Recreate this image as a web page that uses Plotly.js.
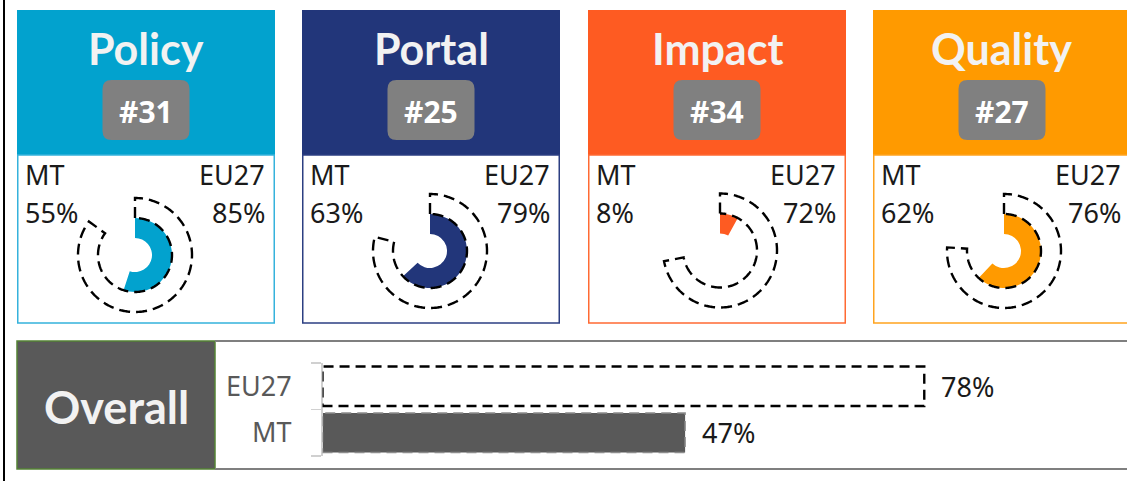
<!DOCTYPE html>
<html><head><meta charset="utf-8">
<script src="https://cdn.plot.ly/plotly-3.0.1.min.js"></script>
<style>html,body{margin:0;padding:0;background:#fff;}#chart{width:1127px;height:481px;}</style>
</head><body><div id="chart"></div>
<script>
// ---- data ----
const pillars = ['Policy', 'Portal', 'Impact', 'Quality'];
const ranks = ['#31', '#25', '#34', '#27'];
const mtScores = [55, 63, 8, 62];
const eu27Scores = [85, 79, 72, 76];
const overallCategories = ['MT', 'EU27'];
const overallValues = [47, 78];
const countryLabel = 'MT';
const benchmarkLabel = 'EU27';
const overallTitle = 'Overall';

// ---- styling ----
const headerColors = ['#02A2CE', '#22367A', '#FE5B22', '#FF9A00'];
const borderColors = ['#35B2DC', '#2C3F82', '#FF6A33', '#FFA41F'];
const W = 1127, H = 481;
const X = v => v / W, Y = v => 1 - v / H;
const panelLeft = [17, 302, 588, 873];
const panelW = 258, headerTop = 10, headerBottom = 155, bodyBottom = 323;
const donutCx = [135, 430, 720, 1004];
const donutCy = [255, 251, 250.5, 251];
const R = 60, rHole = 17, rMid = 37, rOut = 57;
const RING_DASH = '11px,6px';
const BAR_DASH = '10px,6px';

function rr(x0, y0, x1, y1, r) {
  return `M${X(x0 + r)},${Y(y0)} L${X(x1 - r)},${Y(y0)} Q${X(x1)},${Y(y0)} ${X(x1)},${Y(y0 + r)} ` +
    `L${X(x1)},${Y(y1 - r)} Q${X(x1)},${Y(y1)} ${X(x1 - r)},${Y(y1)} L${X(x0 + r)},${Y(y1)} ` +
    `Q${X(x0)},${Y(y1)} ${X(x0)},${Y(y1 - r)} L${X(x0)},${Y(y0 + r)} Q${X(x0)},${Y(y0)} ${X(x0 + r)},${Y(y0)} Z`;
}

function ringOutline(pct) {
  const end = pct * 3.6;
  const r = [], t = [];
  r.push(rMid); t.push(0);
  for (let a = 0; a < end; a += 1) { r.push(rOut); t.push(a); }
  r.push(rOut); t.push(end);
  r.push(rMid); t.push(end);
  for (let a = end; a > 0; a -= 1) { r.push(rMid); t.push(a); }
  r.push(rMid); t.push(0);
  return { r, t };
}

const traces = [];
const shapes = [];
const annotations = [];
const layout = {
  width: W, height: H, margin: { l: 0, r: 0, t: 0, b: 0 },
  paper_bgcolor: '#ffffff', plot_bgcolor: 'rgba(0,0,0,0)',
  showlegend: false, hovermode: false,
  font: { family: 'Noto Sans', color: '#1a1a1a' },
};

// outer frame line on left
shapes.push({ type: 'line', xref: 'paper', yref: 'paper', x0: X(4), x1: X(4), y0: 0, y1: 1,
  line: { color: '#000000', width: 2 }, layer: 'below' });

pillars.forEach((name, i) => {
  const L = panelLeft[i], cx = L + panelW / 2;
  const sfx = i === 0 ? '' : String(i + 1);
  shapes.push({ type: 'rect', xref: 'paper', yref: 'paper', x0: X(L), x1: X(L + panelW), y0: Y(headerBottom), y1: Y(headerTop),
    fillcolor: headerColors[i], line: { width: 0 }, layer: 'below' });
  shapes.push({ type: 'rect', xref: 'paper', yref: 'paper', x0: X(L + 0.75), x1: X(L + panelW - 0.75), y0: Y(bodyBottom), y1: Y(headerBottom),
    fillcolor: '#ffffff', line: { color: borderColors[i], width: 1.5 }, layer: 'below' });
  shapes.push({ type: 'path', xref: 'paper', yref: 'paper', path: rr(cx - 43.5, 80, cx + 43.5, 140, 9),
    fillcolor: '#808080', line: { width: 0 }, layer: 'below' });
  annotations.push({ xref: 'paper', yref: 'paper', x: X(cx), y: Y(48), text: name, showarrow: false,
    xanchor: 'center', yanchor: 'middle', font: { family: 'Lato', size: 43, weight: 700, color: '#F2F2F2' } });
  annotations.push({ xref: 'paper', yref: 'paper', x: X(cx), y: Y(111), text: ranks[i], showarrow: false,
    xanchor: 'center', yanchor: 'middle', font: { family: 'Noto Sans', size: 30, weight: 700, color: '#ffffff' } });
  annotations.push({ xref: 'paper', yref: 'paper', x: X(L + 6), y: Y(174), text: countryLabel, showarrow: false,
    xanchor: 'left', yanchor: 'middle', font: { family: 'Noto Sans', size: 27, color: '#1a1a1a' } });
  annotations.push({ xref: 'paper', yref: 'paper', x: X(L + 6), y: Y(212), text: mtScores[i] + '%', showarrow: false,
    xanchor: 'left', yanchor: 'middle', font: { family: 'Noto Sans', size: 27, color: '#1a1a1a' } });
  annotations.push({ xref: 'paper', yref: 'paper', x: X(L + panelW - 8), y: Y(174), text: benchmarkLabel, showarrow: false,
    xanchor: 'right', yanchor: 'middle', font: { family: 'Noto Sans', size: 27, color: '#1a1a1a' } });
  annotations.push({ xref: 'paper', yref: 'paper', x: X(L + panelW - 8), y: Y(212), text: eu27Scores[i] + '%', showarrow: false,
    xanchor: 'right', yanchor: 'middle', font: { family: 'Noto Sans', size: 27, color: '#1a1a1a' } });

  const dcx = donutCx[i], dcy = donutCy[i];
  layout['polar' + sfx] = {
    domain: { x: [X(dcx - R), X(dcx + R)], y: [Y(dcy + R), Y(dcy - R)] },
    bgcolor: 'rgba(0,0,0,0)', hole: 0,
    radialaxis: { visible: false, range: [0, R], showgrid: false, showline: false, showticklabels: false, ticks: '' },
    angularaxis: { visible: false, rotation: 90, direction: 'clockwise', showgrid: false, showline: false, showticklabels: false, ticks: '' },
  };
  traces.push({ type: 'barpolar', subplot: 'polar' + sfx, r: [rMid - rHole], base: [rHole],
    theta: [mtScores[i] * 3.6 / 2], width: [mtScores[i] * 3.6],
    marker: { color: headerColors[i], line: { width: 0 } }, hoverinfo: 'skip' });
  const ol = ringOutline(eu27Scores[i]);
  traces.push({ type: 'scatterpolar', subplot: 'polar' + sfx, mode: 'lines', r: ol.r, theta: ol.t,
    line: { color: '#000000', width: 2.4, dash: RING_DASH }, cliponaxis: false, hoverinfo: 'skip' });
});

// ---- Overall section ----
shapes.push({ type: 'rect', xref: 'paper', yref: 'paper', x0: X(17), x1: X(215), y0: Y(469), y1: Y(341),
  fillcolor: '#595959', line: { color: '#548235', width: 1.5 }, layer: 'below' });
shapes.push({ type: 'line', xref: 'paper', yref: 'paper', x0: X(215), x1: 1, y0: Y(341), y1: Y(341),
  line: { color: '#7F7F7F', width: 2 }, layer: 'below' });
shapes.push({ type: 'line', xref: 'paper', yref: 'paper', x0: X(215), x1: 1, y0: Y(469), y1: Y(469),
  line: { color: '#7F7F7F', width: 2 }, layer: 'below' });
annotations.push({ xref: 'paper', yref: 'paper', x: X(116), y: Y(407), text: overallTitle, showarrow: false,
  xanchor: 'center', yanchor: 'middle', font: { family: 'Lato', size: 45, weight: 700, color: '#F2F2F2' } });

traces.push({ type: 'bar', orientation: 'h', x: overallValues, y: overallCategories, xaxis: 'x', yaxis: 'y',
  marker: { color: overallCategories.map(c => c === countryLabel ? '#595959' : 'rgba(0,0,0,0)'), line: { width: 0 } },
  hoverinfo: 'skip' });
layout.bargap = 0.15;
layout.xaxis = { domain: [X(322.5), X(1094)], range: [0, 100], visible: false, fixedrange: true };
layout.yaxis = { domain: [Y(456), Y(363)], type: 'category', categoryorder: 'array', categoryarray: overallCategories,
  showline: true, linecolor: '#D0D0D0', linewidth: 1.5, ticks: 'outside', tickson: 'boundaries', ticklen: 10,
  tickcolor: '#D0D0D0', tickwidth: 1.5, showgrid: false, zeroline: false, ticklabelstandoff: 24,
  tickfont: { family: 'Noto Sans', size: 27, color: '#595959' }, fixedrange: true };

overallCategories.forEach((c, k) => {
  const v = overallValues[k];
  const isMT = c === countryLabel;
  shapes.push({ type: 'rect', xref: 'x', yref: 'y', x0: 0, x1: v, y0: k - 0.425, y1: k + 0.425,
    line: { color: isMT ? '#8C8C8C' : '#000000', width: isMT ? 1.5 : 2.4, dash: BAR_DASH }, fillcolor: 'rgba(0,0,0,0)', layer: 'above' });
  annotations.push({ xref: 'x', yref: 'y', x: v, y: c, text: v + '%', showarrow: false, xanchor: 'left', yanchor: 'middle',
    xshift: 15, font: { family: 'Noto Sans', size: 27, color: '#1a1a1a' } });
});

layout.shapes = shapes;
layout.annotations = annotations;
Plotly.newPlot('chart', traces, layout, { staticPlot: true, displayModeBar: false });
</script>
</body></html>
